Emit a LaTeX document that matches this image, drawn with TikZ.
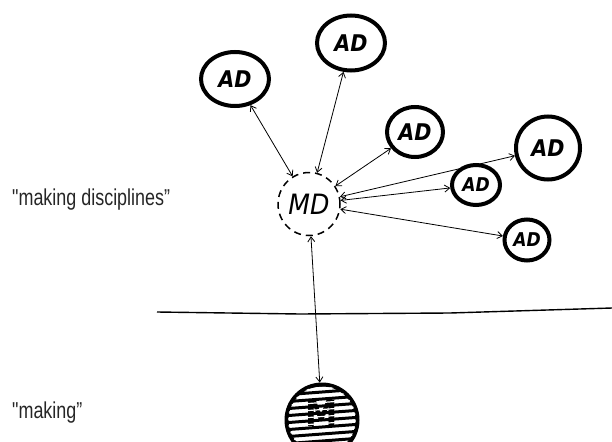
\documentclass[tikz,border=0pt]{standalone}
\usepackage{fontspec}
\newfontfamily\notefont[FakeStretch=0.78]{Liberation Sans}
\newfontfamily\handfont[FakeStretch=0.9]{DejaVu Sans}
\usetikzlibrary{shapes.geometric,arrows.meta}

\begin{document}
\begin{tikzpicture}[x=1pt, y=-1pt,
		ad/.style={ellipse, draw, line width=4pt, inner sep=0pt, font=\handfont\bfseries\itshape\fontsize{23}{23}\selectfont},
		md/.style={ellipse, draw, dash pattern=on 7pt off 5pt, line width=1.5pt, inner sep=0pt, font=\handfont\itshape\fontsize{28}{28}\selectfont},
		mk/.style={circle, draw, line width=4pt, inner sep=0pt, minimum size=71pt},
		link/.style={<->, >={Straight Barb[length=5pt, width=7pt]}, line width=0.8pt},
		note/.style={anchor=base west, inner sep=0pt, text=black!85, font=\notefont\fontsize{23}{23}\selectfont}]
			\clip (0,0) rectangle (612,441);

			\node[md, minimum width=62pt, minimum height=63pt] (md) at (309, 204) {MD};
			\node[ad, minimum width=68pt, minimum height=54pt] (ad1) at (235, 79) {AD};
			\node[ad, minimum width=68pt, minimum height=55pt] (ad2) at (351, 43) {AD};
			\node[ad, minimum width=56pt, minimum height=50pt] (ad3) at (415, 132) {AD};
			\node[ad, minimum width=64pt, minimum height=63pt] (ad4) at (548, 148) {AD};
			\node[ad, minimum width=48pt, minimum height=40pt, font=\handfont\bfseries\itshape\fontsize{19}{19}\selectfont] (ad5) at (476, 185) {AD};
			\node[ad, minimum width=45pt, minimum height=41pt, font=\handfont\bfseries\itshape\fontsize{19}{19}\selectfont] (ad6) at (527, 240) {AD};
			\node[mk] (m) at (322, 420) {};

			\node[note] (lmd) at (12, 205) {"making disciplines”};
			\node[note] (lm) at (12, 418) {"making”};

			\draw[line width=1.4pt] (157, 312) -- (300, 314) -- (450, 313) -- (612, 308);

			\draw[link] (md) -- (ad1);
			\draw[link] (md) -- (ad2);
			\draw[link] (md) -- (ad3);
			\draw[link] (md) -- (ad4);
			\draw[link] (md) -- (ad5);
			\draw[link] (md) -- (ad6);
			\draw[link] (md) -- (m);

			% hatching of the making circle
			\begin{scope}
				\clip (m.center) circle (34);
				\foreach \dy in {-35,-28,...,35}
					\draw[line width=3pt] (282, {420+\dy+3}) -- (362, {420+\dy-3});
				\node[inner sep=0pt, font=\handfont\bfseries\fontsize{36}{36}\selectfont] (mtext) at (322, 413) {M};
				\foreach \dy in {-31.5,-24.5,...,35}
					\draw[line width=1.2pt, white] (282, {420+\dy+3}) -- (362, {420+\dy-3});
			\end{scope}
		\end{tikzpicture}
\end{document}
